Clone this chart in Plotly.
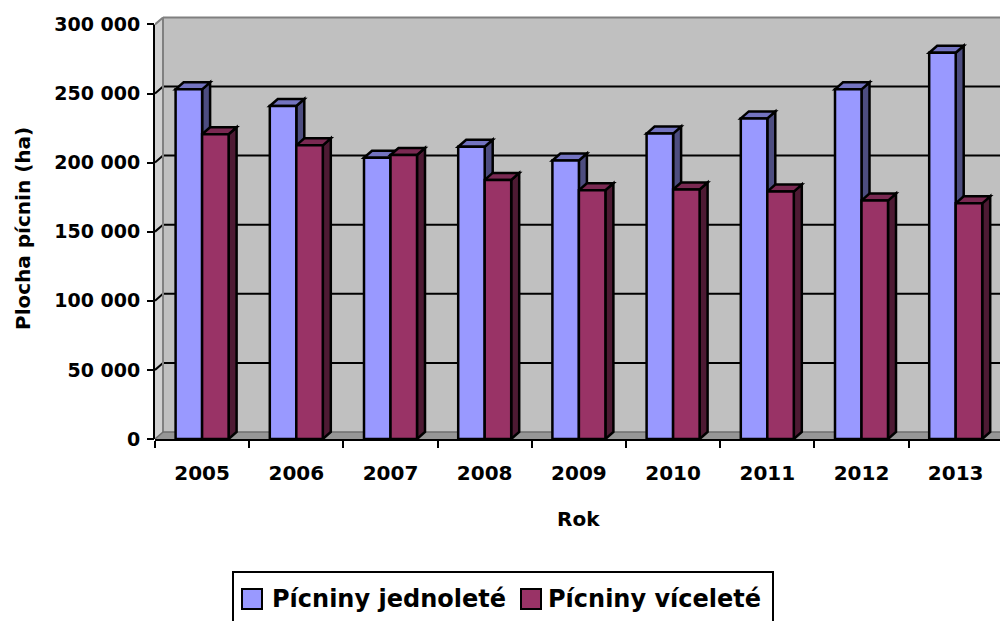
import plotly.graph_objects as go

# ---- data -------------------------------------------------------------
years = ["2005", "2006", "2007", "2008", "2009", "2010", "2011", "2012", "2013"]
jednolete = [253000, 241000, 203500, 211500, 201500, 221000, 232000, 253000, 279500]
vicelete = [220500, 212500, 205500, 187500, 180000, 180500, 179000, 172500, 170500]
series_names = ["Pícniny jednoleté", "Pícniny víceleté"]
y_tickvals = [0, 50000, 100000, 150000, 200000, 250000, 300000]
y_ticktext = ["0", "50 000", "100 000", "150 000", "200 000", "250 000", "300 000"]
x_title = "Rok"
y_title = "Plocha pícnin (ha)"

# ---- styling ----------------------------------------------------------
FRONT = ["#9999FF", "#993366"]
TOP = ["#7373C0", "#7A2952"]
SIDE = ["#4D4D80", "#4D1A33"]
WALL = "#C0C0C0"
SIDE_WALL = "#D0D0D0"
FLOOR = "#969696"
EDGE = "#808080"
FONT = "DejaVu Sans"

W, H = 1000, 621
L, R, T, B = 155, 1000, 10, 439        # plot area in pixels
CAT_PX = 94.2                           # width of one category in pixels
UNIT_PX = 69.1 / 50000                  # pixels per hectare on the value axis
DEPTH_X_PX, DEPTH_Y_PX = 8, 7           # depth offset of the 3-D box
BAR_PX = 26.5                           # front width of a single bar

x_min = -0.5
x_max = x_min + (R - L) / CAT_PX
y_max = (B - T) / UNIT_PX
dx = DEPTH_X_PX / CAT_PX
dy = DEPTH_Y_PX / UNIT_PX
bar_w = BAR_PX / CAT_PX
offsets = [-bar_w, 0.0]
wall_top = y_tickvals[-1]
far_x = x_max + 1


def px_x(px):
    return (px - L) / (R - L)


def px_y(py):
    return (B - py) / (B - T)


shapes = []


def add(**kw):
    kw.setdefault("layer", "below")
    kw.setdefault("xref", "x")
    kw.setdefault("yref", "y")
    shapes.append(kw)


# back wall, side wall, floor
add(type="rect", x0=x_min + dx, x1=far_x + dx, y0=dy, y1=wall_top + dy,
    fillcolor=WALL, line=dict(width=0))
add(type="path",
    path=f"M{x_min},0 L{x_min + dx},{dy} L{x_min + dx},{wall_top + dy} L{x_min},{wall_top} Z",
    fillcolor=SIDE_WALL, line=dict(width=0))
add(type="path",
    path=f"M{x_min},0 L{far_x},0 L{far_x + dx},{dy} L{x_min + dx},{dy} Z",
    fillcolor=FLOOR, line=dict(width=0))

# gridlines on the back wall and their continuation on the side wall
for v in y_tickvals[1:-1]:
    add(type="line", x0=x_min + dx, x1=far_x + dx, y0=v + dy, y1=v + dy,
        line=dict(color="black", width=2))
    add(type="line", x0=x_min, x1=x_min + dx, y0=v, y1=v + dy,
        line=dict(color="black", width=2))
add(type="line", x0=x_min + dx, x1=far_x + dx, y0=wall_top + dy, y1=wall_top + dy,
    line=dict(color=EDGE, width=2))
add(type="line", x0=x_min, x1=x_min + dx, y0=wall_top, y1=wall_top + dy,
    line=dict(color=EDGE, width=2))
add(type="line", x0=x_min + dx, x1=x_min + dx, y0=dy, y1=wall_top + dy,
    line=dict(color=EDGE, width=2))
add(type="line", x0=x_min + dx, x1=far_x + dx, y0=dy, y1=dy,
    line=dict(color="#6E6E6E", width=1.5))
add(type="line", x0=x_min, x1=x_min + dx, y0=0, y1=dy,
    line=dict(color="#6E6E6E", width=1.5))

# top and side faces of the columns
series = [jednolete, vicelete]
for i in range(len(years)):
    for s, vals in enumerate(series):
        v = vals[i]
        xl = i + offsets[s]
        xr = xl + bar_w
        add(type="path",
            path=f"M{xr},0 L{xr},{v} L{xr + dx},{v + dy} L{xr + dx},{dy} Z",
            fillcolor=SIDE[s], line=dict(color="black", width=2.5))
        add(type="path",
            path=f"M{xl},{v} L{xl + dx},{v + dy} L{xr + dx},{v + dy} L{xr},{v} Z",
            fillcolor=TOP[s], line=dict(color="black", width=2.5))

# front value axis line
shapes.append(dict(type="line", xref="paper", yref="y", layer="above",
                   x0=-1 / (R - L), x1=-1 / (R - L), y0=0, y1=wall_top,
                   line=dict(color="black", width=2)))

# legend box with swatches
leg_box = (233, 572, 773, 640)
shapes.append(dict(type="rect", xref="paper", yref="paper", layer="above",
                   x0=px_x(leg_box[0]), x1=px_x(leg_box[2]),
                   y0=px_y(leg_box[1]), y1=px_y(leg_box[3]),
                   fillcolor="white", line=dict(color="black", width=2)))
swatch_x = [242, 521]
text_x = [270, 546]
leg_cy = 599
for s in range(2):
    shapes.append(dict(type="rect", xref="paper", yref="paper", layer="above",
                       x0=px_x(swatch_x[s]), x1=px_x(swatch_x[s] + 20),
                       y0=px_y(leg_cy + 10), y1=px_y(leg_cy - 10),
                       fillcolor=FRONT[s], line=dict(color="black", width=2)))

bold = dict(family=FONT, size=19, color="black", weight="bold")
bold_x = dict(family=FONT, size=20, color="black", weight="bold")

annotations = [
    dict(text=x_title, xref="paper", yref="paper", x=px_x(578), y=px_y(519),
         showarrow=False, font=bold_x, xanchor="center", yanchor="middle"),
    dict(text=y_title, xref="paper", yref="paper", x=px_x(23), y=px_y(229),
         showarrow=False, font=bold_x, textangle=-90, xanchor="center", yanchor="middle"),
]
for s in range(2):
    annotations.append(dict(text=series_names[s], xref="paper", yref="paper",
                            x=px_x(text_x[s]), y=px_y(leg_cy), showarrow=False,
                            xanchor="left", yanchor="middle",
                            font=dict(family=FONT, size=24, color="black", weight="bold")))

fig = go.Figure()
for s, vals in enumerate(series):
    fig.add_trace(go.Bar(
        x=list(range(len(years))), y=vals, name=series_names[s],
        width=bar_w, offset=offsets[s],
        marker=dict(color=FRONT[s], line=dict(color="black", width=2.5)),
        showlegend=False,
    ))

fig.update_layout(
    width=W, height=H,
    margin=dict(l=L, r=W - R, t=T, b=H - B, pad=0),
    paper_bgcolor="white", plot_bgcolor="white",
    barmode="overlay",
    font=bold,
    shapes=shapes,
    annotations=annotations,
    showlegend=False,
    xaxis=dict(
        range=[x_min, x_max], tickmode="array",
        tickvals=list(range(len(years))), ticktext=years,
        ticks="", showgrid=False, zeroline=False,
        showline=True, linecolor="black", linewidth=2,
        tickfont=bold_x, ticklabelstandoff=15,
        minor=dict(tickmode="array", tickvals=[i - 0.5 for i in range(len(years) + 1)],
                   ticks="outside", ticklen=7, tickwidth=2, tickcolor="black",
                   showgrid=False),
    ),
    yaxis=dict(
        range=[0, y_max], tickmode="array",
        tickvals=y_tickvals, ticktext=y_ticktext,
        ticks="outside", ticklen=7, tickwidth=2, tickcolor="black",
        showgrid=False, zeroline=False, showline=False,
        tickfont=bold, ticklabelstandoff=3,
    ),
)

fig.write_html("out.html")
